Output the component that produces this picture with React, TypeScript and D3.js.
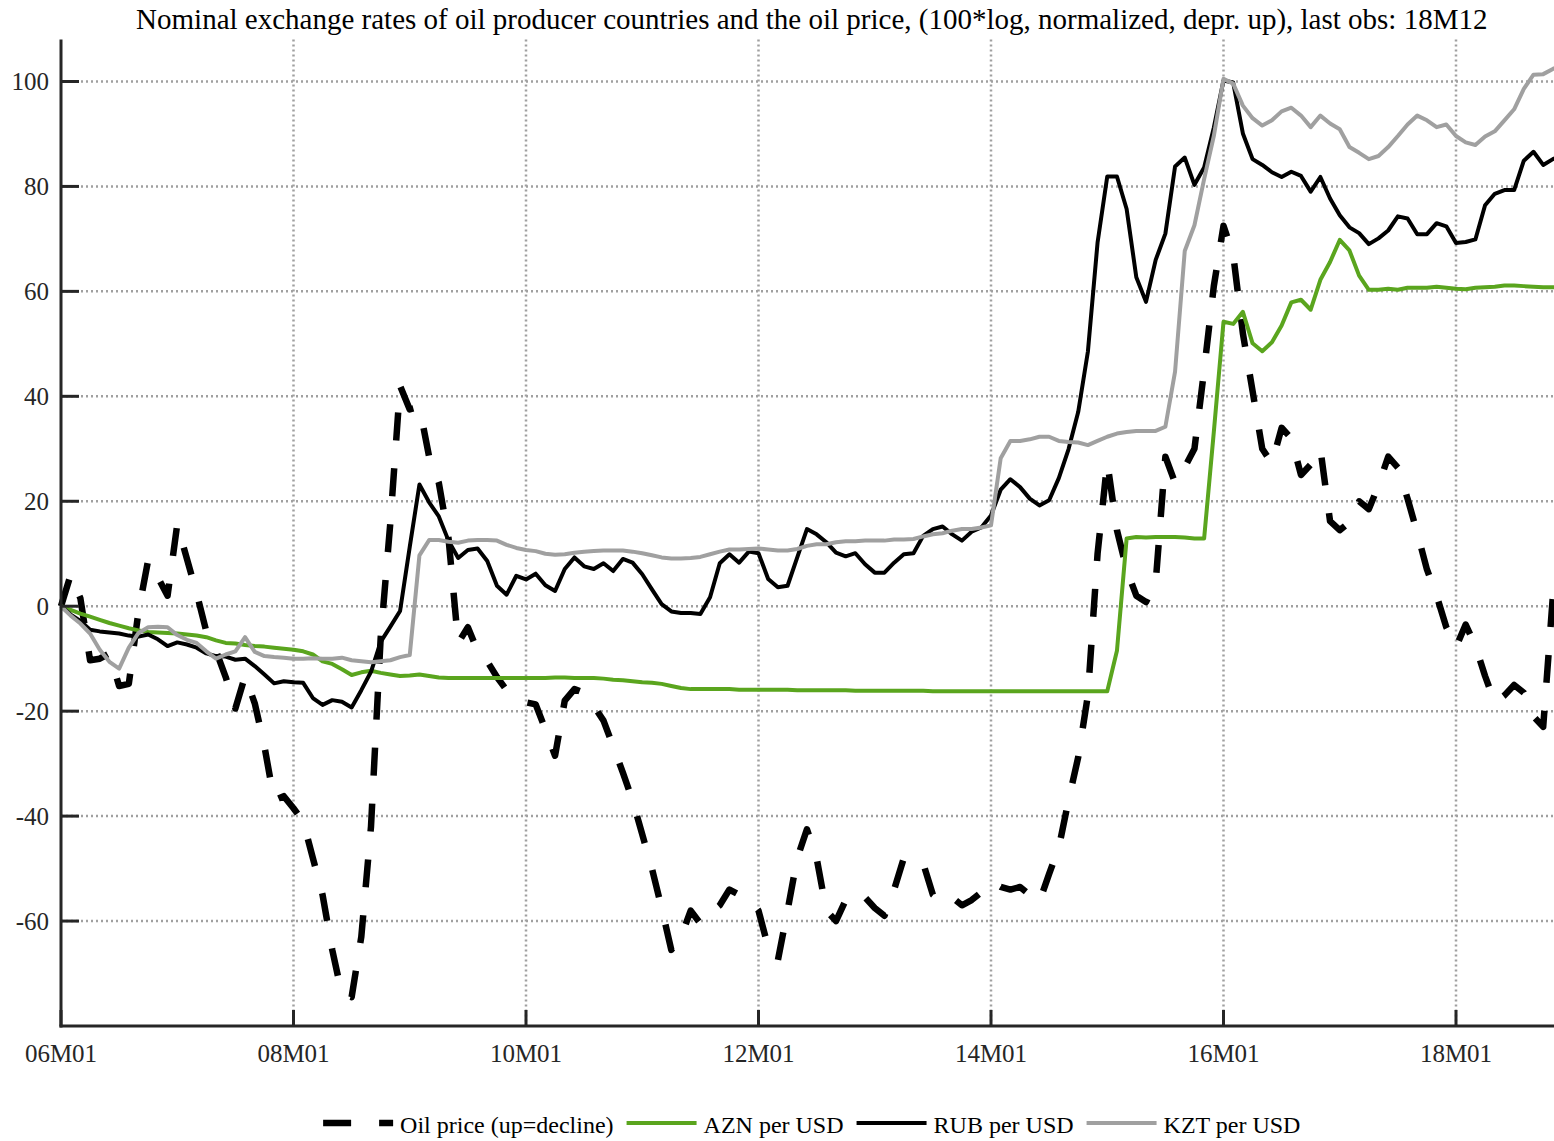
import * as d3 from 'd3';
import { useEffect, useRef } from 'react';

// months since 06M01, one value per month (06M01 .. 18M12)
const tickMonths = [0, 24, 48, 72, 96, 120, 144];
const tickLabels = ['06M01', '08M01', '10M01', '12M01', '14M01', '16M01', '18M01'];
const yTicks = [-60, -40, -20, 0, 20, 40, 60, 80, 100];

const oilPrice = [
	0, 6, 1.5, -10.3, -10, -9, -15.2, -14.8, -1, 8.8,
	5.5, 2, 15.6, 9, 2.5, -4.8, -8.5, -13.5, -19.5, -13.3,
	-18.5, -26.7, -37, -36.2, -38.5, -41, -48, -55, -65.5, -74,
	-74.5, -63, -42, -6, 16, 42, 37.5, 38, 28.5, 23.5,
	13, -7, -4, -8.5, -10.5, -13.5, -16, -17.5, -18.3, -18.7,
	-23.5, -28.5, -18, -15.8, -16.5, -19, -21.8, -26.7, -31.7, -37,
	-43.5, -50, -57.5, -65.5, -63, -58, -60.5, -58.5, -57, -54,
	-55, -55.5, -58, -65, -67.5, -58, -48, -42.5, -48, -58,
	-60, -56, -54.5, -55.5, -57.5, -59, -54, -48, -48.3, -49,
	-55, -56.5, -55.5, -57, -56, -54.5, -52.5, -53.5, -54, -53.5,
	-55, -56.3, -51, -46, -37, -28.8, -17, 10, 27.5, 14.5,
	7, 2, 0.8, 4.5, 28.5, 23.5, 26.5, 30, 45, 61,
	72.5, 67, 52, 41, 30, 27.2, 34, 32, 25, 27,
	30, 16.2, 14.5, 16, 20, 18.5, 23, 28.5, 26.4, 20.5,
	14, 7, 2, -4, -7.8, -3.5, -7.5, -13.3, -18.4, -17,
	-15, -16.5, -21, -23, 2, 10,
];

const aznPerUsd = [
	0, -0.7, -1.4, -2, -2.6, -3.2, -3.7, -4.2, -4.6, -4.9,
	-5, -5.1, -5.2, -5.4, -5.6, -5.9, -6.5, -7, -7.1, -7.4,
	-7.6, -7.7, -7.9, -8.1, -8.3, -8.6, -9.2, -10.5, -11, -12,
	-13.1, -12.6, -12.3, -12.7, -13, -13.3, -13.2, -13, -13.3, -13.6,
	-13.7, -13.7, -13.7, -13.7, -13.7, -13.7, -13.7, -13.7, -13.7, -13.7,
	-13.7, -13.6, -13.6, -13.7, -13.7, -13.7, -13.8, -14, -14.1, -14.3,
	-14.5, -14.6, -14.8, -15.2, -15.6, -15.8, -15.8, -15.8, -15.8, -15.8,
	-15.9, -15.9, -15.9, -15.9, -15.9, -15.9, -16, -16, -16, -16,
	-16, -16, -16.1, -16.1, -16.1, -16.1, -16.1, -16.1, -16.1, -16.1,
	-16.2, -16.2, -16.2, -16.2, -16.2, -16.2, -16.2, -16.2, -16.2, -16.2,
	-16.2, -16.2, -16.2, -16.2, -16.2, -16.2, -16.2, -16.2, -16.2, -8.5,
	12.9, 13.2, 13.1, 13.2, 13.2, 13.2, 13.1, 12.9, 12.9, 33.2,
	54.2, 53.8, 56.1, 50.1, 48.6, 50.3, 53.5, 57.9, 58.4, 56.5,
	62.2, 65.6, 69.8, 67.8, 63, 60.3, 60.3, 60.5, 60.3, 60.7,
	60.7, 60.7, 60.9, 60.7, 60.5, 60.4, 60.7, 60.8, 60.9, 61.1,
	61.1, 61, 60.9, 60.8, 60.8, 60.8,
];

const rubPerUsd = [
	0, -1.6, -2.8, -4.5, -4.8, -5, -5.2, -5.6, -5.8, -5.4,
	-6.3, -7.6, -6.9, -7.3, -7.9, -9, -9.5, -9.6, -10.2, -10,
	-11.4, -13, -14.7, -14.3, -14.5, -14.6, -17.5, -18.8, -17.9, -18.2,
	-19.3, -16, -12.5, -6.8, -3.9, -0.9, 11.3, 23.2, 19.8, 17.1,
	12.5, 9.2, 10.7, 11, 8.6, 3.9, 2.2, 5.8, 5.1, 6.2,
	4, 2.9, 7.1, 9.3, 7.6, 7.1, 8.2, 6.7, 9, 8.3,
	6.1, 3.2, 0.4, -1, -1.3, -1.3, -1.5, 1.7, 8.2, 9.9,
	8.3, 10.4, 10.1, 5.2, 3.6, 3.9, 9.3, 14.7, 13.7, 12.2,
	10.2, 9.5, 10.1, 8, 6.4, 6.4, 8.3, 9.9, 10.1, 13.4,
	14.7, 15.2, 13.7, 12.5, 14.2, 15, 17.3, 22.2, 24.2, 22.7,
	20.5, 19.2, 20.2, 24.4, 29.9, 37, 48.5, 69.3, 81.9, 81.9,
	75.7, 62.7, 58, 66, 71, 83.8, 85.5, 80.3, 83.6, 91.2,
	100.2, 99.8, 90.1, 85.2, 84.1, 82.7, 81.8, 82.8, 82, 79,
	81.8, 77.7, 74.5, 72.2, 71.1, 69, 70.1, 71.6, 74.3, 73.9,
	70.9, 70.9, 73, 72.4, 69.2, 69.4, 69.9, 76.4, 78.6, 79.3,
	79.3, 84.9, 86.6, 84.1, 85.2, 86,
];

const kztPerUsd = [
	0, -1.8, -3.3, -5.2, -8.3, -10.6, -11.9, -7.9, -5.1, -4,
	-3.9, -4, -5.5, -6.4, -7, -8.6, -10, -9.2, -8.6, -5.9,
	-8.7, -9.5, -9.7, -9.8, -10, -10, -9.9, -10, -10, -9.8,
	-10.3, -10.5, -10.7, -10.5, -10.3, -9.7, -9.3, 9.7, 12.6, 12.6,
	12.3, 12.1, 12.5, 12.6, 12.6, 12.5, 11.7, 11.1, 10.7, 10.5,
	10, 9.8, 9.9, 10.2, 10.4, 10.5, 10.6, 10.6, 10.6, 10.4,
	10.1, 9.7, 9.3, 9.1, 9.1, 9.2, 9.4, 9.9, 10.4, 10.8,
	10.8, 10.9, 11, 10.8, 10.6, 10.6, 10.9, 11.5, 11.8, 11.8,
	12.2, 12.4, 12.4, 12.5, 12.5, 12.5, 12.7, 12.7, 12.8, 13.3,
	13.7, 13.9, 14.4, 14.7, 14.7, 15, 15.4, 28.2, 31.5, 31.5,
	31.8, 32.3, 32.3, 31.5, 31.3, 31.2, 30.7, 31.5, 32.3, 32.9,
	33.2, 33.4, 33.4, 33.4, 34.2, 44.7, 67.7, 72.6, 81.4, 89.6,
	100.5, 99.6, 95.4, 93, 91.6, 92.6, 94.3, 95, 93.5, 91.3,
	93.5, 92, 90.9, 87.5, 86.4, 85.2, 85.8, 87.5, 89.6, 91.8,
	93.5, 92.6, 91.3, 91.8, 89.6, 88.4, 87.9, 89.5, 90.5, 92.6,
	94.7, 98.6, 101.3, 101.4, 102.4, 103.2,
];

const seriesNames = ['Oil price (up=decline)', 'AZN per USD', 'RUB per USD', 'KZT per USD'];
const seriesValues = [oilPrice, aznPerUsd, rubPerUsd, kztPerUsd];

const title =
	'Nominal exchange rates of oil producer countries and the oil price, (100*log, normalized, depr. up), last obs: 18M12';

const styles = [
	{ color: '#000000', width: 6.5, dash: '28 28' },
	{ color: '#5aa51e', width: 4, dash: null },
	{ color: '#000000', width: 4, dash: null },
	{ color: '#a0a0a0', width: 4, dash: null },
];

const FONT = "'Liberation Serif', 'Times New Roman', serif";

const Chart = () => {
	const chartRef = useRef<SVGSVGElement>(null);

	const width = 1554;
	const height = 1141;

	useEffect(() => {
		const svg = d3.select(chartRef.current);
		svg.selectAll('*').remove();

		// шкалы
		const x = d3.scaleLinear().domain([0, 155]).range([61, 61 + 155 * 9.6875]);
		const y = d3.scaleLinear().domain([-80, 108]).range([1026, 39.5]);
		const left = x(0);
		const bottom = y(-80);
		const top = y(108);

		// сетка
		const grid = svg
			.append('g')
			.attr('stroke', '#a0a0a0')
			.attr('stroke-width', 2.5)
			.attr('stroke-dasharray', '2 3');
		grid
			.selectAll('.hgrid')
			.data(yTicks)
			.enter()
			.append('line')
			.attr('x1', left)
			.attr('x2', width)
			.attr('y1', (d) => y(d))
			.attr('y2', (d) => y(d));
		grid
			.selectAll('.vgrid')
			.data(tickMonths.filter((d) => d > 0))
			.enter()
			.append('line')
			.attr('x1', (d) => x(d))
			.attr('x2', (d) => x(d))
			.attr('y1', top)
			.attr('y2', bottom);

		// линии
		const line = d3
			.line<number>()
			.x((_, i) => x(i))
			.y((d) => y(d));

		seriesValues.forEach((values, k) => {
			const st = styles[k];
			const path = svg
				.append('path')
				.datum(values)
				.attr('d', line)
				.attr('fill', 'none')
				.attr('stroke', st.color)
				.attr('stroke-width', st.width)
				.attr('stroke-linejoin', 'round');
			if (st.dash) path.attr('stroke-dasharray', st.dash);
		});

		// оси
		const axis = svg.append('g').attr('stroke', '#262626').attr('stroke-width', 3);
		axis.append('line').attr('x1', left).attr('x2', left).attr('y1', top).attr('y2', bottom + 1.5);
		axis.append('line').attr('x1', left - 1.5).attr('x2', width).attr('y1', bottom).attr('y2', bottom);
		axis
			.selectAll('.yt')
			.data(yTicks)
			.enter()
			.append('line')
			.attr('x1', left)
			.attr('x2', left + 18)
			.attr('y1', (d) => y(d))
			.attr('y2', (d) => y(d));
		axis
			.selectAll('.xt')
			.data(tickMonths)
			.enter()
			.append('line')
			.attr('x1', (d) => x(d))
			.attr('x2', (d) => x(d))
			.attr('y1', bottom)
			.attr('y2', bottom - 16);

		const labels = svg
			.append('g')
			.style('font-family', FONT)
			.style('font-size', '25px')
			.attr('fill', '#262626');
		labels
			.selectAll('.yl')
			.data(yTicks)
			.enter()
			.append('text')
			.attr('x', left - 12)
			.attr('y', (d) => y(d) + 9)
			.attr('text-anchor', 'end')
			.text((d) => String(d));
		labels
			.selectAll('.xl')
			.data(tickMonths)
			.enter()
			.append('text')
			.attr('x', (d) => x(d))
			.attr('y', 1061.5)
			.attr('text-anchor', 'middle')
			.text((_, i) => tickLabels[i]);

		// заголовок
		const center = (x(0) + x(155)) / 2;
		svg
			.append('text')
			.attr('x', center)
			.attr('y', 29)
			.attr('text-anchor', 'middle')
			.style('font-family', FONT)
			.style('font-size', '29px')
			.attr('fill', '#000')
			.text(title);

		// легенда
		const legend = svg.append('g').style('font-family', FONT).style('font-size', '24px');
		const items = seriesNames.map((name, k) => {
			const g = legend.append('g');
			const st = styles[k];
			const l = g
				.append('line')
				.attr('x1', 0)
				.attr('x2', 70)
				.attr('y1', 1123)
				.attr('y2', 1123)
				.attr('stroke', st.color)
				.attr('stroke-width', st.width);
			if (st.dash) l.attr('stroke-dasharray', st.dash);
			const t = g.append('text').attr('x', 77).attr('y', 1133).attr('fill', '#000').text(name);
			const w = (t.node() as SVGTextElement).getComputedTextLength();
			return { g, w: 77 + w };
		});
		const gap = 13;
		const total = d3.sum(items, (d) => d.w) + gap * (items.length - 1);
		let cx = center - total / 2;
		items.forEach((it) => {
			it.g.attr('transform', `translate(${cx}, 0)`);
			cx += it.w + gap;
		});
	}, []);

	return (
		<svg
			ref={chartRef}
			width={width}
			height={height}
			style={{ position: 'absolute', left: 0, top: 0, background: '#fff' }}
		></svg>
	);
};

export default function App() {
	return <Chart />;
}
